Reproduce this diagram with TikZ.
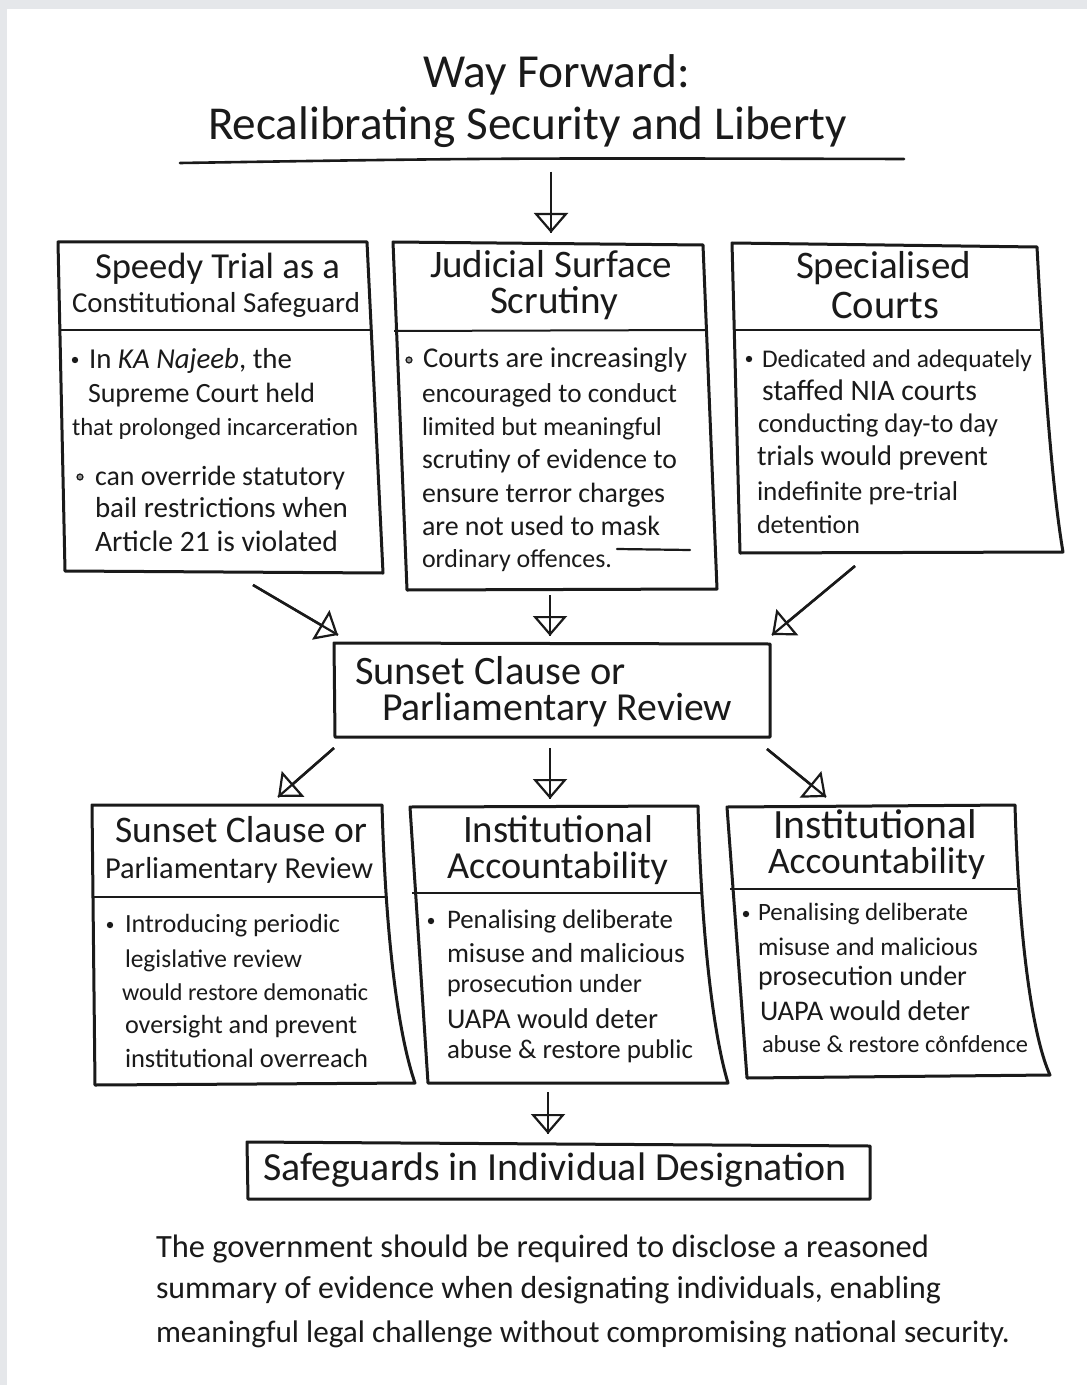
\documentclass[tikz,border=0pt]{standalone}
\usepackage{fontspec}
\setmainfont{Carlito}
\usetikzlibrary{arrows.meta}
\newdimen\unitpx \unitpx=0.5pt
\definecolor{bordergray}{HTML}{E5E7EA}
\definecolor{ink}{HTML}{1A1A1A}
\newcommand\tline[5]{\node[txt] (#1) at (#2,#3) {\resizebox{#4\unitpx}{!}{#5}};}
\newcommand\ringo{\ooalign{o\cr\hidewidth\raisebox{-0.1ex}{\char"02DA}\hidewidth}}
\tikzset{
  txt/.style={anchor=base west, inner sep=0pt, outer sep=0pt, text=ink},
  boxline/.style={draw=ink, line width=1.5pt, line join=round},
  divline/.style={draw=ink, line width=1pt},
  arr/.style={draw=ink, line width=1.3pt, -{Triangle[open, length=10pt, width=17pt, line width=1.1pt]}},
  shaft/.style={draw=ink, line width=1.1pt},
  bulfill/.style={fill=ink},
  bulring/.style={draw=ink, line width=0.6pt, fill=ink!45}
}
\begin{document}
\begin{tikzpicture}[x=0.5pt, y=-0.5pt]
\fill[bordergray] (0,0) rectangle (1087,1385);
\fill[white] (7,9) rectangle (1087,1385);
\useasboundingbox (0,0) rectangle (1087,1385);

% title
\tline{t0a}{423}{88}{267}{Way Forward:}
\tline{t0b}{208}{140}{639}{Recalibrating Security and Liberty}
\draw[ink, line width=1.3pt, line cap=round] (180,163) .. controls (500,158) .. (904,159);

% box 1
\draw[boxline] (58,242) -- (367,242) -- (383,573) -- (65,571) -- cycle;
\draw[divline] (59,330) -- (371,330);
\tline{a1}{95}{279}{245}{Speedy Trial as a}
\tline{a2}{72}{313}{288}{Constitutional Safeguard}
\fill[bulfill] (75,360) circle (3.2);
\tline{a3}{89}{368}{203}{In \textit{KA Najeeb}, the}
\tline{a4}{88}{402}{227}{Supreme Court held}
\tline{a5}{72}{435}{286}{that prolonged incarceration}
\draw[bulring] (80,477) circle (3);
\tline{a6}{95}{485}{250}{can override statutory}
\tline{a7}{95}{517}{253}{bail restrictions when}
\tline{a8}{95}{551}{243}{Article 21 is violated}

% box 2
\draw[boxline] (393,242) -- (703,245) -- (717,589) -- (407,590) -- cycle;
\draw[divline] (394,331) -- (707,330);
\tline{b1}{430}{278}{242}{Judicial Surface}
\tline{b2}{490}{314}{128}{Scrutiny}
\draw[bulring] (409,360) circle (3);
\tline{b3}{423}{367}{264}{Courts are increasingly}
\tline{b4}{422}{402}{255}{encouraged to conduct}
\tline{b5}{422}{435}{240}{limited but meaningful}
\tline{b6}{422}{468}{255}{scrutiny of evidence to}
\tline{b7}{422}{502}{243}{ensure terror charges}
\tline{b8}{422}{535}{238}{are not used to mask}
\tline{b9}{422}{567}{190}{ordinary offences.}
\draw[ink, line width=1.1pt, line cap=round] (617,549) -- (690,550);

% box 3
\draw[boxline] (732,243) -- (1037,247) .. controls (1045,400) and (1054,500) .. (1063,552) -- (740,553) -- cycle;
\draw[divline] (734,330) -- (1040,330);
\tline{c1}{796}{279}{175}{Specialised}
\tline{c2}{831}{319}{108}{Courts}
\fill[bulfill] (749,359) circle (3.2);
\tline{c3}{762}{367}{270}{Dedicated and adequately}
\tline{c4}{762}{400}{215}{staffed NIA courts}
\tline{c5}{758}{432}{240}{conducting day-to day}
\tline{c6}{757}{465}{231}{trials would prevent}
\tline{c7}{757}{500}{201}{indefinite pre-trial}
\tline{c8}{757}{533}{103}{detention}

% middle box
\draw[boxline] (334,643) -- (770,644) -- (770,737) -- (335,737) -- cycle;
\tline{m1}{355}{684}{271}{Sunset Clause or}
\tline{m2}{382}{720}{350}{Parliamentary Review}

% box 4
\draw[boxline] (92,805) -- (382,805) .. controls (386,950) and (400,1040) .. (415,1083) -- (95,1085) -- cycle;
\draw[divline] (93,897) -- (387,897);
\tline{d1}{115}{842}{252}{Sunset Clause or}
\tline{d2}{105}{878}{268}{Parliamentary Review}
\fill[bulfill] (110,925) circle (3.2);
\tline{d3}{125}{932}{215}{Introducing periodic}
\tline{d4}{125}{967}{177}{legislative review}
\tline{d5}{122}{1000}{246}{would restore demonatic}
\tline{d6}{125}{1033}{232}{oversight and prevent}
\tline{d7}{125}{1067}{243}{institutional overreach}

% box 5
\draw[boxline] (410,807) -- (698,806) .. controls (702,950) and (715,1040) .. (728,1083) -- (428,1083) -- cycle;
\draw[divline] (412,893) -- (703,893);
\tline{e1}{463}{842}{190}{Institutional}
\tline{e2}{447}{878}{221}{Accountability}
\fill[bulfill] (431,921) circle (3.2);
\tline{e3}{447}{928}{226}{Penalising deliberate}
\tline{e4}{447}{962}{238}{misuse and malicious}
\tline{e5}{447}{992}{195}{prosecution under}
\tline{e6}{447}{1028}{211}{UAPA would deter}
\tline{e7}{447}{1058}{246}{abuse \& restore public}

% box 6
\draw[boxline] (727,807) -- (1015,805) .. controls (1019,950) and (1034,1040) .. (1050,1075) -- (747,1078) -- cycle;
\draw[divline] (730,889) -- (1017,889);
\tline{f1}{773}{838}{204}{Institutional}
\tline{f2}{768}{873}{217}{Accountability}
\fill[bulfill] (746,914) circle (3.2);
\tline{f3}{758}{920}{210}{Penalising deliberate}
\tline{f4}{758}{955}{220}{misuse and malicious}
\tline{f5}{758}{985}{209}{prosecution under}
\tline{f6}{760}{1020}{210}{UAPA would deter}
\tline{f7}{762}{1052}{266}{abuse \& restore c\ringo nfdence}

% bottom box
\draw[boxline] (247,1142) -- (870,1146) -- (870,1199) -- (248,1199) -- cycle;
\tline{g1}{263}{1180}{584}{Safeguards in Individual Designation}
\tline{p1}{156}{1257}{773}{The government should be required to disclose a reasoned}
\tline{p2}{156}{1298}{785}{summary of evidence when designating individuals, enabling}
\tline{p3}{156}{1342}{854}{meaningful legal challenge without compromising national security.}

% arrow coordinates
\coordinate (s0) at (551,172); \coordinate (e0) at (551,233);
\coordinate (s1) at (253,585); \coordinate (e1) at (338,635);
\coordinate (s2) at (550,595); \coordinate (e2) at (550,636);
\coordinate (s3) at (855,566); \coordinate (e3) at (772,635);
\coordinate (s4) at (334,748); \coordinate (e4) at (278,797);
\coordinate (s5) at (550,748); \coordinate (e5) at (550,799);
\coordinate (s6) at (767,749); \coordinate (e6) at (826,797);
\coordinate (s7) at (548,1092); \coordinate (e7) at (548,1134);
\foreach \i in {0,...,7}{
  \draw[arr] (s\i) -- (e\i);
  \draw[shaft] (s\i) -- (e\i);
}
\end{tikzpicture}
\end{document}
